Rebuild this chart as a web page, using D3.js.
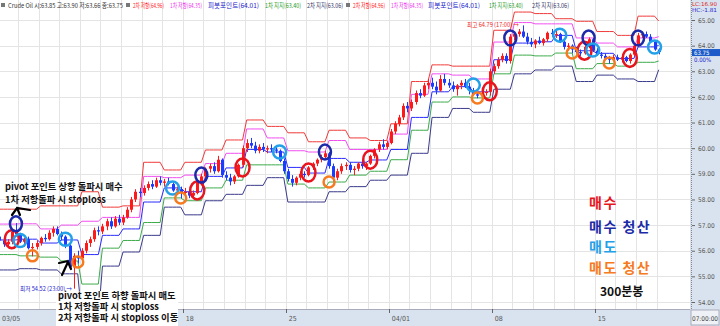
<!DOCTYPE html>
<html>
<head>
<meta charset="utf-8">
<script src="https://cdn.jsdelivr.net/npm/d3@7"></script>
<style>
body { margin: 0; background: #fff; }
svg { display: block; font-family: "Noto Sans CJK KR", "Noto Sans", sans-serif; }
</style>
</head>
<body>
<div id="chart"></div>
<script>
// ---- Data ----
var dayLabels = ["03/05","03/06","03/07","03/08","03/11","03/12","03/13","03/14","03/15",
  "03/18","03/19","03/20","03/21","03/22","03/25","03/26","03/27","03/28","03/29",
  "04/01","04/02","04/03","04/04","04/05","04/08","04/09","04/10","04/11","04/12",
  "04/15","04/16","04/17","04/18"];
var tickDays = {"03/05":"03/05","03/18":"18","03/25":"25","04/01":"04/01","04/08":"08","04/15":"15"};
var priceTicks = [54,55,56,57,58,59,60,61,62,63,64,65];

// 300-minute bars, five per day
var opens = [
  56.55,56.40,56.25,56.35,56.75, 56.65,56.35,56.45,56.10,56.15, 56.30,56.50,56.45,56.70,56.85, 56.65,56.55,56.20,55.35,55.80,
  55.70,56.00,56.30,56.45,56.80, 56.75,56.95,57.15,56.95,57.25, 57.10,57.30,57.60,58.00,58.30, 58.25,58.45,58.60,58.50,58.75,
  58.65,58.70,58.60,58.35,58.40, 58.25,58.30,58.15,58.25,58.65, 58.90,59.20,59.30,59.10,59.55, 58.95,58.85,58.70,58.90,59.35,
  60.00,60.20,60.10,59.90,60.05, 59.95,60.00,59.95,59.90,59.50, 59.10,58.80,58.65,58.85,59.00, 58.95,59.25,59.40,59.55,59.65,
  59.80,59.30,58.85,59.10,59.30, 59.35,59.15,59.20,59.40,59.30, 59.40,59.70,59.95,60.15,60.05, 60.20,60.65,60.95,61.20,61.65,
  61.55,61.80,62.15,62.05,62.45, 62.55,62.40,62.25,62.70,62.55, 62.45,62.30,62.45,62.55,62.40, 62.25,62.10,62.05,62.15,62.20,
  63.00,63.20,63.45,63.60,63.40, 64.35,64.45,64.55,64.35,64.15, 64.05,64.20,64.10,64.25,64.50, 64.45,64.45,64.15,63.95,64.00,
  63.85,63.75,63.70,63.95,64.25, 63.80,63.65,63.60,63.50,63.45, 63.55,63.45,63.55,63.40,63.65, 64.00,64.40,64.45,64.35,64.15,
  63.85];
var highs = [
  56.70,56.55,56.45,56.85,57.08, 56.70,56.50,56.55,56.30,56.40, 56.55,56.65,56.80,56.95,56.95, 56.75,56.60,56.25,55.90,56.00,
  56.10,56.40,56.55,56.90,56.95, 57.05,57.25,57.30,57.35,57.40, 57.40,57.70,58.10,58.40,58.45, 58.55,58.70,58.75,58.85,58.90,
  58.80,58.85,58.65,58.50,58.50, 58.45,58.40,58.35,58.70,59.00, 59.25,59.40,59.45,59.70,59.60, 59.10,59.00,58.95,59.40,60.10,
  60.35,60.40,60.25,60.15,60.20, 60.10,60.15,60.05,59.95,59.60, 59.20,58.95,58.90,59.10,59.10, 59.30,59.45,59.60,59.75,59.90,
  59.85,59.40,59.20,59.40,59.45, 59.45,59.30,59.45,59.55,59.45, 59.75,60.00,60.25,60.35,60.30, 60.75,61.05,61.30,61.75,61.80,
  61.90,62.25,62.30,62.55,62.70, 62.75,62.60,62.85,62.90,62.70, 62.60,62.50,62.65,62.70,62.55, 62.35,62.20,62.25,62.30,63.10,
  63.30,63.55,63.70,63.70,64.45, 64.55,64.65,64.79,64.50,64.30, 64.25,64.35,64.30,64.55,64.65, 64.60,64.50,64.25,64.10,64.05,
  63.95,63.85,64.00,64.32,64.30, 63.90,63.75,63.70,63.60,63.65, 63.65,63.60,63.60,63.70,64.05, 64.50,64.55,64.55,64.45,64.20,
  63.90];
var lows = [
  56.30,56.15,56.10,56.25,56.55, 56.30,56.15,56.05,55.78,56.05, 56.20,56.35,56.40,56.55,56.60, 56.40,56.10,55.30,54.52,55.50,
  55.60,55.90,56.15,56.35,56.60, 56.65,56.80,56.85,56.90,57.00, 57.00,57.25,57.50,57.90,58.10, 58.15,58.35,58.40,58.45,58.55,
  58.50,58.55,58.30,58.20,58.05, 58.15,58.05,58.05,58.20,58.55, 58.80,59.05,59.00,59.05,58.85, 58.75,58.55,58.60,58.85,59.25,
  59.85,60.00,59.80,59.80,59.85, 59.80,59.85,59.80,59.45,59.00, 58.70,58.50,58.55,58.75,58.85, 58.90,59.15,59.30,59.45,59.55,
  59.20,58.70,58.75,59.00,59.15, 59.05,58.95,59.10,59.20,59.15, 59.35,59.60,59.85,59.95,59.95, 60.15,60.55,60.85,61.10,61.40,
  61.45,61.70,61.95,62.00,62.30, 62.30,62.10,62.20,62.45,62.35, 62.20,62.05,62.30,62.35,62.10, 62.05,61.95,61.98,62.05,62.05,
  62.90,63.10,63.35,63.30,63.30, 64.20,64.35,64.30,64.05,63.95, 63.90,64.05,64.00,64.15,64.35, 64.30,64.10,63.85,63.80,63.70,
  63.70,63.60,63.65,63.90,63.75, 63.60,63.50,63.45,63.30,63.40, 63.40,63.35,63.35,63.30,63.60, 63.95,64.30,64.30,64.10,63.80,
  63.66];
var closes = [
  56.40,56.25,56.35,56.75,56.65, 56.35,56.45,56.10,56.15,56.30, 56.50,56.45,56.70,56.85,56.65, 56.55,56.20,55.35,55.80,55.70,
  56.00,56.30,56.45,56.80,56.75, 56.95,57.15,56.95,57.25,57.10, 57.30,57.60,58.00,58.30,58.25, 58.45,58.60,58.50,58.75,58.65,
  58.70,58.60,58.35,58.40,58.25, 58.30,58.15,58.25,58.65,58.90, 59.20,59.30,59.10,59.55,58.95, 58.85,58.70,58.90,59.35,60.00,
  60.20,60.10,59.90,60.05,59.95, 60.00,59.95,59.90,59.50,59.10, 58.80,58.65,58.85,59.00,58.95, 59.25,59.40,59.55,59.65,59.80,
  59.30,58.85,59.10,59.30,59.35, 59.15,59.20,59.40,59.30,59.40, 59.70,59.95,60.15,60.05,60.20, 60.65,60.95,61.20,61.65,61.55,
  61.80,62.15,62.05,62.45,62.55, 62.40,62.25,62.70,62.55,62.45, 62.30,62.45,62.55,62.40,62.25, 62.10,62.05,62.15,62.20,63.00,
  63.20,63.45,63.60,63.40,64.35, 64.45,64.55,64.35,64.15,64.05, 64.20,64.10,64.25,64.50,64.45, 64.45,64.15,63.95,64.00,63.85,
  63.75,63.70,63.95,64.25,63.80, 63.65,63.60,63.50,63.45,63.55, 63.45,63.55,63.40,63.65,64.00, 64.40,64.45,64.35,64.15,63.85,
  63.75];

// daily pivot levels (one value per day)
var r2 = [57.62,57.62,57.75,57.75,58.30,57.70,57.75,59.45,59.15,59.45,59.93,60.32,61.10,60.85,60.60,60.25,60.70,60.40,60.30,60.95,
  62.60,63.25,63.20,63.20,64.60,65.31,65.25,65.05,64.95,64.55,64.40,65.15,64.96];
var r1 = [57.04,57.05,56.85,57.00,57.15,57.30,57.30,58.90,58.85,58.95,59.40,59.80,60.75,60.40,59.90,59.85,60.30,59.95,59.95,60.55,
  62.10,62.90,62.85,62.70,64.14,64.90,64.85,64.85,64.30,64.10,63.95,64.30,64.35];
var pp = [56.42,56.45,56.30,56.42,55.85,56.60,56.85,57.90,58.45,58.30,58.90,59.23,59.95,59.85,59.25,59.03,59.60,59.45,59.54,59.95,
  61.20,62.20,62.40,62.20,63.45,64.10,64.15,64.40,63.80,63.70,63.50,63.95,64.01];
var s1 = [55.85,55.80,55.75,55.60,54.70,56.10,56.40,57.10,58.06,57.95,58.45,58.75,59.35,59.35,58.60,58.45,58.68,58.95,59.10,59.55,
  60.70,61.80,62.00,61.96,62.90,63.63,63.60,63.71,63.10,63.30,63.20,63.35,63.40];
var s2 = [55.25,55.30,55.25,55.10,53.40,55.40,55.95,56.60,57.70,57.40,57.95,58.20,58.55,58.85,57.90,57.90,58.30,58.50,58.75,58.95,
  59.80,61.20,61.55,61.40,62.30,62.90,63.05,63.20,62.60,62.85,62.70,62.60,63.06];

// hand-drawn circle marks: [bar index, price]
var buyMarks      = [[3,56.45],[48,58.35],[59,59.25],[75,59.05],[90,59.55],[119,62.22],[142,63.80],[153,63.52]];
var buyExitMarks  = [[4,57.05],[49,58.95],[79,59.85],[124,64.30],[143,64.30],[155,64.30]];
var sellMarks     = [[5,56.40],[16,56.45],[42,58.45],[68,59.85],[115,62.46],[136,64.41],[144,63.83],[159,63.95]];
var sellExitMarks = [[8,55.80],[19,55.56],[44,58.06],[80,58.68],[116,61.96],[139,63.71],[148,63.32]];

// top legend: [text, colour, left, width]
var legendItems = [
  ["Crude Oil 시:63.85 고:63.90 저:63.66 종:63.75", "#333", 8, 115],
  ["2차 저항(64.96)", "#f22", 133, 31], ["1차 저항(64.35)", "#e3e", 170, 32], ["피봇포인트(64.01)", "#22c", 208, 51],
  ["1차 지지(63.40)", "#292", 265, 36], ["2차 지지(63.06)", "#336", 307, 36],
  ["2차 저항(64.96)", "#f22", 353, 32], ["1차 저항(64.35)", "#e3e", 391, 32], ["피봇포인트(64.01)", "#22c", 428, 52],
  ["1차 지지(63.40)", "#292", 489, 34], ["2차 지지(63.06)", "#336", 532, 37]
];
var legendMarkers = [1, 126, 346];

// ---- Layout ----
var W = 720, H = 326, plotR = 690, plotB = 309;
var barW = 4.12, x0 = -2.6, barsPerDay = 5;

var svg = d3.select("#chart").append("svg").attr("width", W).attr("height", H);
svg.append("rect").attr("width", W).attr("height", H).attr("fill", "#fff");

var x = d3.scaleLinear().domain([0, 1]).range([x0, x0 + barW]);
var y = d3.scaleLinear().domain([54, 65]).range([302, 20]);
var bx = function (i) { return x(i + 0.5); };

var plot = svg.append("g");
plot.append("clipPath").attr("id", "clip").append("rect")
  .attr("x", 0).attr("y", 0).attr("width", plotR).attr("height", plotB);
var g = plot.append("g").attr("clip-path", "url(#clip)");

// grid
g.selectAll(".vg").data(dayLabels).enter().append("line")
  .attr("x1", function (d, i) { return Math.round(x(i * barsPerDay)) + 0.5; })
  .attr("x2", function (d, i) { return Math.round(x(i * barsPerDay)) + 0.5; })
  .attr("y1", 0).attr("y2", plotB).attr("stroke", "#e4e4e4");
g.selectAll(".hg").data(priceTicks).enter().append("line")
  .attr("x1", 0).attr("x2", plotR)
  .attr("y1", function (d) { return Math.round(y(d)) + 0.5; })
  .attr("y2", function (d) { return Math.round(y(d)) + 0.5; })
  .attr("stroke", "#e4e4e4");

// pivot lines (one value per bar taken from its day)
var nBars = closes.length;
function perBar(arr) {
  return d3.range(nBars).map(function (i) { return [i, arr[Math.floor(i / barsPerDay)]]; });
}
var pivotLine = d3.line().x(function (d) { return bx(d[0]); }).y(function (d) { return y(d[1]); });
[[s2, "#3a3a8c"], [s1, "#3cab4a"], [pp, "#2a2aff"], [r1, "#f04ef0"], [r2, "#f03a3a"]].forEach(function (p) {
  g.append("path").datum(perBar(p[0])).attr("d", pivotLine)
    .attr("fill", "none").attr("stroke", p[1]).attr("stroke-width", 1);
});

// candles
var candles = g.selectAll(".c").data(d3.range(nBars)).enter().append("g");
function ccol(i) { return closes[i] >= opens[i] ? "#ff1a1a" : "#1a3cff"; }
candles.append("line")
  .attr("x1", function (i) { return Math.round(bx(i)) + 0.5; })
  .attr("x2", function (i) { return Math.round(bx(i)) + 0.5; })
  .attr("y1", function (i) { return y(highs[i]); })
  .attr("y2", function (i) { return y(lows[i]); })
  .attr("stroke", ccol);
candles.append("rect")
  .attr("x", function (i) { return Math.round(bx(i)) - 1; })
  .attr("width", 3)
  .attr("y", function (i) { return y(Math.max(opens[i], closes[i])); })
  .attr("height", function (i) { return Math.max(1, Math.abs(y(opens[i]) - y(closes[i]))); })
  .attr("fill", ccol);

// circle marks
function marks(data, color, rx, ry, sw) {
  g.selectAll(null).data(data).enter().append("ellipse")
    .attr("cx", function (d) { return bx(d[0]); })
    .attr("cy", function (d) { return y(d[1]); })
    .attr("rx", rx).attr("ry", ry)
    .attr("fill", "none").attr("stroke", color).attr("stroke-width", sw);
}
marks(buyMarks, "#e8141e", 7, 9, 2.5);
marks(buyExitMarks, "#1c2aa8", 6, 7.5, 2.5);
marks(sellMarks, "#22a0e8", 6.5, 6.5, 2.5);
marks(sellExitMarks, "#f57a20", 5.5, 5.5, 2.5);

// high / low notes
svg.append("text").attr("x", 20).attr("y", y(54.52) + 2).attr("font-size", 6).attr("fill", "#22c")
  .attr("textLength", 52).attr("lengthAdjust", "spacingAndGlyphs").text("최저 54.52 (23:00) →");
svg.append("text").attr("x", 467).attr("y", y(64.79) + 2).attr("font-size", 6).attr("fill", "#e22")
  .attr("textLength", 52).attr("lengthAdjust", "spacingAndGlyphs").text("최고 64.79 (17:00) →");

// ---- Axes ----
var axR = svg.append("g");
axR.append("rect").attr("x", plotR).attr("y", 0).attr("width", W - plotR).attr("height", H).attr("fill", "#d9e3ef");
axR.append("line").attr("x1", plotR + 1.5).attr("x2", plotR + 1.5).attr("y1", 0).attr("y2", plotB)
  .attr("stroke", "#888").attr("stroke-dasharray", "1,1");
var yAxis = d3.axisRight(y).tickValues(priceTicks).tickSize(3).tickFormat(d3.format(".2f"));
var ya = axR.append("g").attr("transform", "translate(" + (plotR + 2) + ",0)").call(yAxis);
ya.select(".domain").remove();
ya.selectAll("text").attr("font-size", 6.5).attr("fill", "#555").attr("font-family", "DejaVu Sans Condensed, sans-serif");
ya.selectAll("line").attr("stroke", "#666");

axR.append("text").attr("x", 692).attr("y", 5.5).attr("font-size", 5.5).attr("fill", "#d22")
  .attr("font-family", "DejaVu Sans Condensed, sans-serif")
  .attr("textLength", 25).attr("lengthAdjust", "spacingAndGlyphs").text("LC:16.90");
axR.append("text").attr("x", 692).attr("y", 12).attr("font-size", 5.5).attr("fill", "#22c")
  .attr("font-family", "DejaVu Sans Condensed, sans-serif")
  .attr("textLength", 25).attr("lengthAdjust", "spacingAndGlyphs").text("HC:-1.81");
axR.append("rect").attr("x", plotR + 2).attr("y", y(63.75) - 3).attr("width", W - plotR - 2).attr("height", 7).attr("fill", "#1d5bc8");
axR.append("text").attr("x", 694).attr("y", y(63.75) + 3).attr("font-size", 6).attr("fill", "#fff")
  .attr("font-family", "DejaVu Sans Condensed, sans-serif").text("63.75");
axR.append("text").attr("x", 694).attr("y", y(63.75) + 10).attr("font-size", 6).attr("fill", "#22c")
  .attr("font-family", "DejaVu Sans Condensed, sans-serif").text("0.00%");

var axB = svg.append("g");
axB.append("rect").attr("x", 0).attr("y", plotB).attr("width", W).attr("height", H - plotB).attr("fill", "#d9e3ef");
axB.append("line").attr("x1", 0).attr("x2", plotR).attr("y1", plotB + 0.5).attr("y2", plotB + 0.5).attr("stroke", "#aab");
var ticks = dayLabels.map(function (d, i) { return [d, i]; }).filter(function (d) { return tickDays[d[0]]; });
axB.selectAll(".xt").data(ticks).enter().append("line")
  .attr("x1", function (d) { return Math.round(x(d[1] * barsPerDay)) + 0.5; })
  .attr("x2", function (d) { return Math.round(x(d[1] * barsPerDay)) + 0.5; })
  .attr("y1", plotB).attr("y2", plotB + 4).attr("stroke", "#666");
axB.selectAll(".xl").data(ticks).enter().append("text")
  .attr("x", function (d) { return Math.max(2, x(d[1] * barsPerDay) + 3); })
  .attr("y", 321).attr("font-size", 7).attr("fill", "#555")
  .attr("font-family", "DejaVu Sans Condensed, sans-serif")
  .text(function (d) { return tickDays[d[0]]; });
axB.append("rect").attr("x", plotR + 1).attr("y", plotB + 1).attr("width", W - plotR - 2).attr("height", H - plotB - 2)
  .attr("fill", "#eef2f7").attr("stroke", "#aab");
axB.append("text").attr("x", 692).attr("y", 321).attr("font-size", 6.5).attr("fill", "#444")
  .attr("textLength", 26).attr("lengthAdjust", "spacingAndGlyphs")
  .attr("font-family", "DejaVu Sans Condensed, sans-serif").text("07:00:00");

// ---- Top legend ----
legendMarkers.forEach(function (mx) {
  svg.append("rect").attr("x", mx).attr("y", 3).attr("width", 4).attr("height", 4).attr("fill", "#777");
});
legendItems.forEach(function (it) {
  svg.append("text").attr("x", it[2]).attr("y", 8).attr("font-size", 6.5).attr("fill", it[1])
    .attr("textLength", it[3]).attr("lengthAdjust", "spacingAndGlyphs").text(it[0]);
});

// ---- Annotations ----
var ann = svg.append("g").attr("font-weight", "bold").attr("fill", "#111").attr("font-size", 9.3);
ann.append("text").attr("x", 5).attr("y", 190).text("pivot 포인트 상향 돌파시 매수");
ann.append("text").attr("x", 5).attr("y", 203).text("1차 저항돌파 시 stoploss");
ann.append("rect").attr("x", 56).attr("y", 291).attr("width", 122).attr("height", 35).attr("fill", "#fff");
ann.append("text").attr("x", 58).attr("y", 299).text("pivot 포인트 하향 돌파시 매도");
ann.append("text").attr("x", 58).attr("y", 310).text("1차 저항돌파 시 stoploss");
ann.append("text").attr("x", 58).attr("y", 321).text("2차 저항돌파 시 stoploss 이동");

// hand-drawn arrows
svg.append("path").attr("d", "M12,215 L17,208 L30,210 M17,208 L20,215")
  .attr("fill", "none").attr("stroke", "#000").attr("stroke-width", 2.2).attr("stroke-linecap", "round");
svg.append("path").attr("d", "M59,263 L68,261 M62,275 L68,262 L71,269")
  .attr("fill", "none").attr("stroke", "#000").attr("stroke-width", 2.2).attr("stroke-linecap", "round");

// right legend
var leg = svg.append("g").attr("font-weight", "bold").attr("font-size", 14).attr("letter-spacing", 1.5);
[["매수", "#e8141e", 208], ["매수 청산", "#1c2aa8", 232], ["매도", "#22a0e8", 252], ["매도 청산", "#f57a20", 273]]
  .forEach(function (d) {
    leg.append("text").attr("x", 589).attr("y", d[2]).attr("fill", d[1]).text(d[0]);
  });
svg.append("text").attr("x", 600).attr("y", 296).attr("font-weight", "bold").attr("font-size", 12)
  .attr("fill", "#111").text("300분봉");
</script>
</body>
</html>
